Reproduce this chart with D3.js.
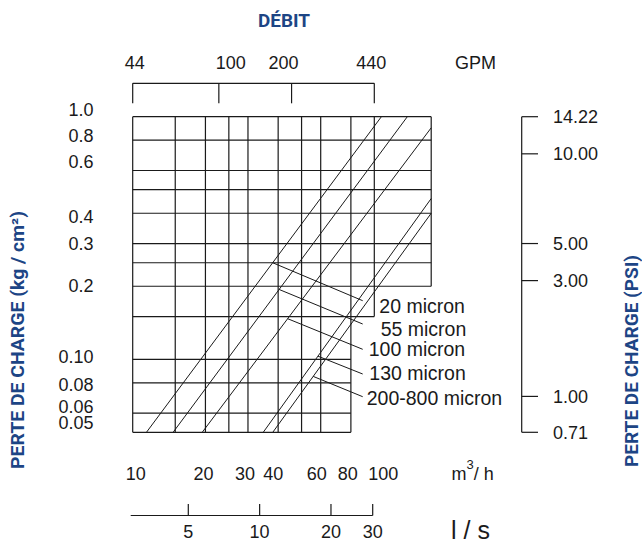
<!DOCTYPE html>
<html>
<head>
<meta charset="utf-8">
<script src="https://cdn.jsdelivr.net/npm/d3@7"></script>
<style>
  html, body { margin: 0; padding: 0; background: #fff; }
  svg { display: block; }
  text { font-family: "Liberation Sans", Arial, Helvetica, sans-serif; fill: #1a1a1a; }
  .title { font-family: Roboto, "Liberation Sans", Arial, sans-serif; font-weight: 700; fill: #1d4585; }
</style>
</head>
<body>
<svg id="chart" width="642" height="544"></svg>
<script>
// Flow (m³/h) and pressure drop (kg/cm²) axes
const flowTicks = [10, 20, 30, 40, 60, 80, 100];
const gridFlows = [10, 15, 20, 25, 30, 40, 50, 60, 80, 100, 172];
const pressureTicks = [1.0, 0.8, 0.6, 0.4, 0.3, 0.2, 0.10, 0.08, 0.06, 0.05];
const pressureLabels = ["1.0", "0.8", "0.6", "0.4", "0.3", "0.2", "0.10", "0.08", "0.06", "0.05"];
const gridPressures = [1, 0.8, 0.6, 0.5, 0.4, 0.3, 0.25, 0.2, 0.15, 0.1, 0.08, 0.06, 0.05];

// Secondary scales: GPM on top, l/s below, PSI on the right
const gpmTicks = [44, 100, 200, 440];
const lsTicks = [5, 10, 20, 30];
const psiLabels = ["14.22", "10.00", "5.00", "3.00", "1.00", "0.71"];
const psiAt = [1.0, 0.703, 0.30, 0.211, 0.0703, 0.05];

// Screen curves: flow at 0.05 kg/cm², and the upper end point of each line
const screens = ["20 micron", "55 micron", "100 micron", "130 micron", "200-800 micron"];
const flowAtLow = [11.4, 14.7, 19.4, 34.7, 38.0];
const flowAtHigh = [107, 137, 172, 172, 172];
const pressureAtHigh = [1.0, 1.0, 0.90, 0.46, 0.40];
// pressure on each curve where its label leader starts
const leaderPressure = [0.25, 0.194, 0.147, 0.103, 0.085];

const svg = d3.select("#chart");

const x = d3.scaleLog().domain([10, 100]).range([132.7, 374.3]);
const y = d3.scaleLog().domain([0.05, 1]).range([432.3, 116.7]);
const gpmX = g => x(g / 4.4);
const ls = d3.scaleLog().domain([5, 30]).range([188.3, 372.7]);

const ink = "#1a1a1a";

// ---- grid: stepped outline, wider on top ----
const hReach = p => (p >= 0.2 ? 172 : p >= 0.15 ? 100 : 80);
const vSpan = f => (f >= 172 ? [0.2, 1] : f >= 100 ? [0.15, 1] : [0.05, 1]);

const grid = svg.append("g").attr("stroke", ink).attr("stroke-width", 1.2).attr("fill", "none");
grid.selectAll("line.h").data(gridPressures).join("line")
  .attr("class", "h")
  .attr("x1", x(10)).attr("x2", p => x(hReach(p)))
  .attr("y1", p => y(p)).attr("y2", p => y(p));
grid.selectAll("line.v").data(gridFlows).join("line")
  .attr("class", "v")
  .attr("x1", f => x(f)).attr("x2", f => x(f))
  .attr("y1", f => y(vSpan(f)[0])).attr("y2", f => y(vSpan(f)[1]));

// ---- screen curves ----
const line = d3.line().x(d => x(d[0])).y(d => y(d[1]));
const curves = screens.map((name, i) => ({
  name,
  pts: [[flowAtLow[i], 0.05], [flowAtHigh[i], pressureAtHigh[i]]]
}));
svg.append("g").selectAll("path").data(curves).join("path")
  .attr("d", d => line(d.pts))
  .attr("fill", "none").attr("stroke", ink).attr("stroke-width", 1);

// flow on a curve at a given pressure (straight in log-log)
function flowOn(c, p) {
  const [[f0, p0], [f1, p1]] = c.pts;
  const t = (Math.log(p) - Math.log(p0)) / (Math.log(p1) - Math.log(p0));
  return Math.exp(Math.log(f0) + t * (Math.log(f1) - Math.log(f0)));
}

// ---- leaders and labels ----
const labelLayout = [
  { ex: 362.7, ey: 300.7, tx: 379.3, ty: 313 },
  { ex: 362.7, ey: 324.0, tx: 380.7, ty: 336 },
  { ex: 362.7, ey: 349.3, tx: 368.7, ty: 356 },
  { ex: 362.7, ey: 374.0, tx: 369.3, ty: 380 },
  { ex: 362.7, ey: 396.7, tx: 366.7, ty: 405 }
];
const ann = svg.append("g");
curves.forEach((c, i) => {
  const p = leaderPressure[i];
  const L = labelLayout[i];
  ann.append("line")
    .attr("x1", x(flowOn(c, p))).attr("y1", y(p))
    .attr("x2", L.ex).attr("y2", L.ey)
    .attr("stroke", ink).attr("stroke-width", 1);
  ann.append("text")
    .attr("x", L.tx).attr("y", L.ty)
    .attr("font-size", 19.5)
    .text(c.name);
});

// ---- left pressure labels (kg/cm²) ----
const leftDy = [-7, -5, -9, 3, 0, -1, -3, 2, -6, -10];
svg.append("g").selectAll("text").data(pressureTicks).join("text")
  .attr("x", 93.5)
  .attr("y", (p, i) => y(p) + leftDy[i])
  .attr("dy", "0.35em")
  .attr("text-anchor", "end")
  .attr("font-size", 18)
  .text((p, i) => pressureLabels[i]);

// ---- bottom flow labels (m³/h) ----
const flowDx = [3, -2, -3, -5, -4, -3, 9];
svg.append("g").selectAll("text").data(flowTicks).join("text")
  .attr("x", (f, i) => x(f) + flowDx[i])
  .attr("y", 480)
  .attr("text-anchor", "middle")
  .attr("font-size", 18)
  .text(f => f);

const unit = svg.append("text").attr("x", 451.5).attr("y", 480).attr("font-size", 18);
unit.append("tspan").text("m");
unit.append("tspan").attr("dy", -11).attr("font-size", 13).text("3");
unit.append("tspan").attr("dy", 11).text("/ h");

// ---- l/s axis ----
const lsG = svg.append("g").attr("stroke", ink).attr("stroke-width", 1.2);
lsG.append("line").attr("x1", x(10) - 2).attr("x2", ls(30)).attr("y1", 515.5).attr("y2", 515.5);
lsG.selectAll("line.t").data(lsTicks).join("line")
  .attr("class", "t")
  .attr("x1", d => ls(d)).attr("x2", d => ls(d))
  .attr("y1", 504).attr("y2", 515.5);
svg.append("g").selectAll("text").data(lsTicks).join("text")
  .attr("x", d => ls(d)).attr("y", 538)
  .attr("text-anchor", "middle").attr("font-size", 18)
  .text(d => d);
svg.append("text").attr("x", 451).attr("y", 539).attr("font-size", 25).text("l / s");

// ---- GPM bracket on top ----
const gpmG = svg.append("g").attr("stroke", ink).attr("stroke-width", 1.2);
gpmG.append("line").attr("x1", gpmX(44)).attr("x2", gpmX(440)).attr("y1", 83.3).attr("y2", 83.3);
gpmG.selectAll("line.t").data(gpmTicks).join("line")
  .attr("class", "t")
  .attr("x1", g => gpmX(g)).attr("x2", g => gpmX(g))
  .attr("y1", 83.3).attr("y2", 103.3);
const gpmDx = [2, 12, -8, -3];
svg.append("g").selectAll("text").data(gpmTicks).join("text")
  .attr("x", (g, i) => gpmX(g) + gpmDx[i]).attr("y", 69)
  .attr("text-anchor", "middle").attr("font-size", 18)
  .text(g => g);
svg.append("text").attr("x", 455).attr("y", 69).attr("font-size", 18).text("GPM");

// ---- PSI scale on the right ----
const psiG = svg.append("g").attr("stroke", ink).attr("stroke-width", 1.2);
psiG.append("line").attr("x1", 521.7).attr("x2", 521.7).attr("y1", y(1)).attr("y2", y(0.05));
psiG.selectAll("line.t").data(psiAt).join("line")
  .attr("class", "t")
  .attr("x1", 521.7).attr("x2", 538)
  .attr("y1", p => y(p)).attr("y2", p => y(p));
svg.append("g").selectAll("text").data(psiAt).join("text")
  .attr("x", 553).attr("y", p => y(p)).attr("dy", "0.35em")
  .attr("font-size", 18)
  .text((p, i) => psiLabels[i]);

// ---- titles ----
svg.append("text").attr("class", "title")
  .attr("x", 284).attr("y", 27).attr("text-anchor", "middle")
  .attr("font-size", 17.5)
  .attr("textLength", 52).attr("lengthAdjust", "spacingAndGlyphs")
  .text("DÉBIT");

svg.append("text").attr("class", "title")
  .attr("transform", "translate(24,340) rotate(-90)")
  .attr("text-anchor", "middle").attr("font-size", 17.5)
  .attr("textLength", 258).attr("lengthAdjust", "spacingAndGlyphs")
  .text("PERTE DE CHARGE (kg / cm²)");

svg.append("text").attr("class", "title")
  .attr("transform", "translate(638,361) rotate(-90)")
  .attr("text-anchor", "middle").attr("font-size", 17.5)
  .attr("textLength", 212).attr("lengthAdjust", "spacingAndGlyphs")
  .text("PERTE DE CHARGE (PSI)");
</script>
</body>
</html>
